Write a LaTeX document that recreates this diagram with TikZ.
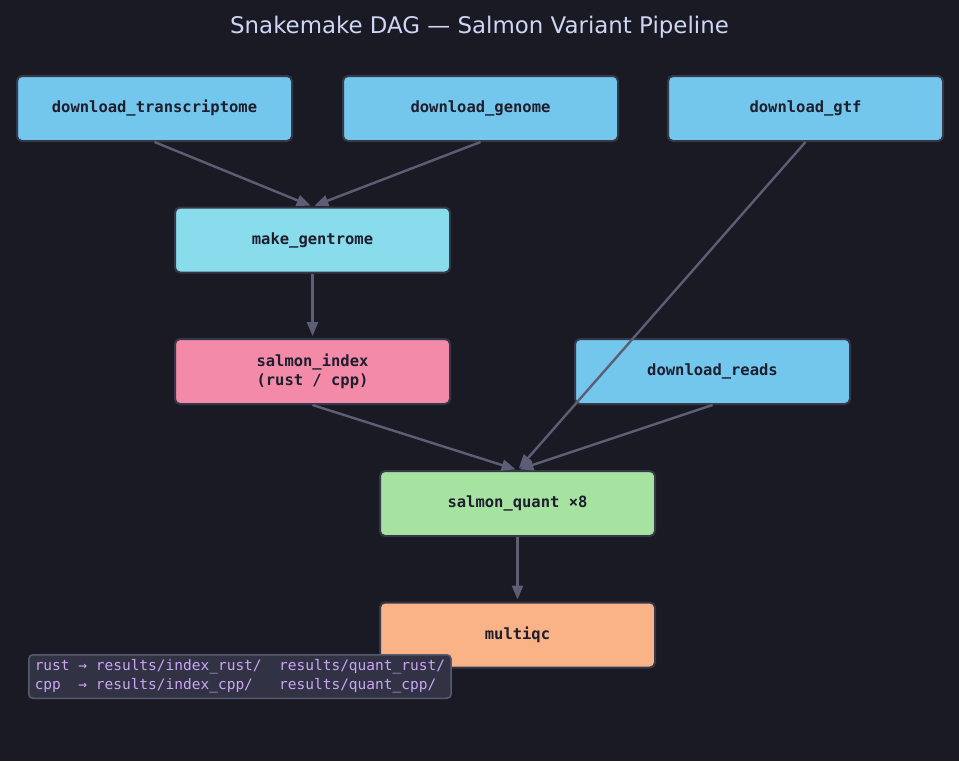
\documentclass[tikz,border=0pt]{standalone}
\usepackage{fontspec}
\setmainfont{DejaVu Sans}
\setmonofont{DejaVu Sans Mono}
\usetikzlibrary{arrows.meta}
\usetikzlibrary{positioning}

\definecolor{bgdark}{HTML}{1A1A24}
\definecolor{titlefg}{HTML}{CDD6F4}
\definecolor{nodefg}{HTML}{1E1E2E}
\definecolor{nodeline}{HTML}{363749}
\definecolor{edgeline}{HTML}{5C5E75}
\definecolor{dlblue}{HTML}{74C7EC}
\definecolor{skyblue}{HTML}{89DCEB}
\definecolor{idxpink}{HTML}{F38BA8}
\definecolor{quantgreen}{HTML}{A6E3A1}
\definecolor{qcpeach}{HTML}{FAB387}
\definecolor{legfill}{HTML}{313244}
\definecolor{legline}{HTML}{585B70}
\definecolor{legfg}{HTML}{CBA6F7}

\begin{document}
\begin{tikzpicture}[x=1pt, y=-1pt, node distance=64.5pt and 123pt,
    rule/.style={draw=nodeline, line width=2pt, rounded corners=5pt,
      minimum width=275pt, minimum height=65pt, align=center, text=nodefg,
      font=\ttfamily\bfseries\fontsize{15.5}{19}\selectfont},
    dep/.style={draw=edgeline, line width=2.4pt,
      -{Triangle[length=14pt,width=11pt]}, shorten >=2pt}]
      \fill[bgdark] (0,0) rectangle (959,761);
      \useasboundingbox (0,0) rectangle (959,761);

      \node[text=titlefg, font=\fontsize{22.9}{27}\selectfont] (title)
           at (479.5,27) {Snakemake DAG — Salmon Variant Pipeline};

      \node[rule, fill=dlblue] (dl-tx) at (154.5,108.5)
           {download\_transcriptome};
      \node[rule, fill=dlblue] (dl-genome) at (480.5,108.5)
           {download\_genome};
      \node[rule, fill=dlblue] (dl-gtf) at (805.5,108.5)
           {download\_gtf};

      \node[rule, fill=skyblue] (gentrome) at (312.5,240)
           {make\_gentrome};
      \node[rule, fill=idxpink, below=of gentrome] (index)
           {salmon\_index\\(rust / cpp)};
      \node[rule, fill=dlblue, right=of index] (dl-reads)
           {download\_reads};

      \node[rule, fill=quantgreen] (quant) at (517.5,503.5)
           {salmon\_quant ×8};
      \node[rule, fill=qcpeach, below=of quant] (multiqc)
           {multiqc};

      \draw[dep] (dl-tx.south) -- (gentrome.north);
      \draw[dep] (dl-genome.south) -- (gentrome.north);
      \draw[dep] (gentrome) -- (index);
      \draw[dep] (dl-gtf.south) -- (quant.north);
      \draw[dep] (index.south) -- (quant.north);
      \draw[dep] (dl-reads.south) -- (quant.north);
      \draw[dep] (quant) -- (multiqc);

      \node[draw=legline, fill=legfill, line width=1.5pt, rounded corners=4pt,
            text=legfg, align=left, anchor=north west, inner xsep=6pt,
            inner ysep=5pt, font=\ttfamily\fontsize{14.5}{19}\selectfont]
           (legend) at (28,654)
           {rust → results/index\_rust/~~results/quant\_rust/\\
            cpp~~→ results/index\_cpp/~~~results/quant\_cpp/};
    \end{tikzpicture}
\end{document}
